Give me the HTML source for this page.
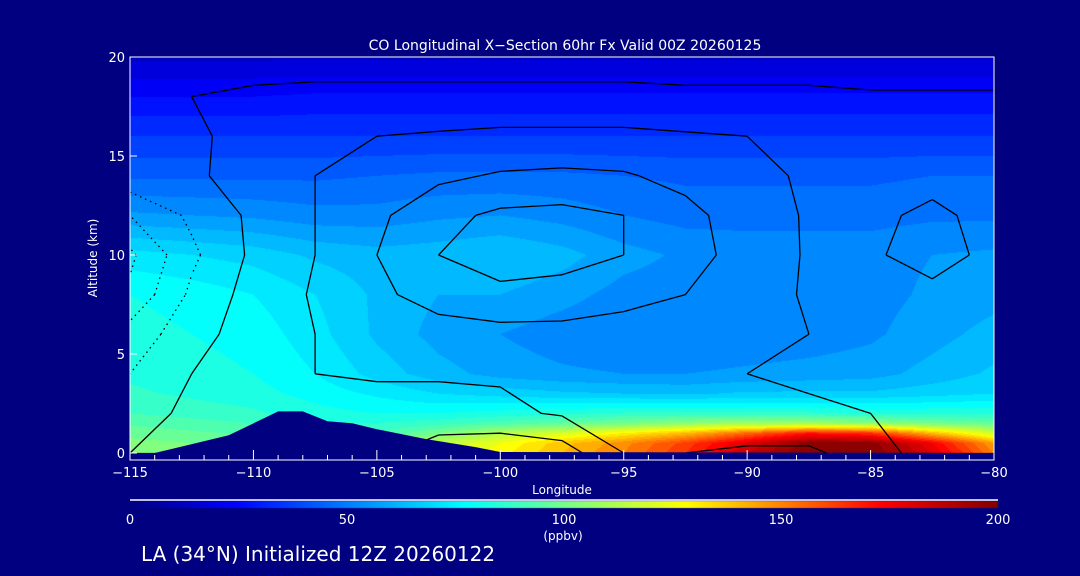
<!DOCTYPE html>
<html><head><meta charset="utf-8">
<style>
html,body{margin:0;padding:0;background:#000080;}
#wrap{position:relative;width:1080px;height:576px;background:#000080;overflow:hidden;font-family:"DejaVu Sans","Liberation Sans",sans-serif;color:#fff;}
canvas{position:absolute;left:0;top:0;}
svg{position:absolute;left:0;top:0;}
</style></head>
<body>
<div id="wrap">
<canvas id="field" width="1080" height="576"></canvas>
<svg id="svg" width="1080" height="576"></svg>
</div>
<script>
// ---- data ----
const lons = [-115,-112.5,-110,-107.5,-105,-102.5,-100,-97.5,-95,-92.5,-90,-87.5,-85,-82.5,-80];
const coAlts = [0,0.5,1,1.5,2,3,4,6,8,10,12,14,16,18,20];
const coValues = [
 [105,102,98,95,95,120,128,140,150,165,185,200,200,180,150],
 [102,100,96,95,95,115,125,138,148,162,180,198,198,175,145],
 [98,96,94,92,90,100,112,120,130,140,155,170,165,140,118],
 [94,92,90,86,85,88,92,96,100,105,108,108,105,100,96],
 [90,88,86,82,80,80,82,84,86,86,86,86,84,84,84],
 [86,84,82,78,74,70,68,66,65,64,66,66,66,68,70],
 [84,82,80,75,68,62,58,56,55,55,56,57,58,62,66],
 [82,80,78,72,64,58,55,52,50,50,51,52,54,58,62],
 [80,78,75,70,64,60,60,57,53,52,52,52,53,56,58],
 [72,70,68,64,62,63,65,62,57,54,53,53,53,55,56],
 [56,55,54,52,52,54,55,53,50,48,48,48,48,49,49],
 [44,44,44,44,45,46,46,46,45,44,44,44,44,45,45],
 [35,35,35,35,35,35,35,35,35,35,35,35,35,35,35],
 [25,25,25,26,26,26,26,26,26,26,26,26,26,26,26],
 [14,14,14,14,14,14,14,14,14,14,14,14,14,14,14]
];
const anAlts = [0,2,4,6,8,10,12,14,16,18,20];
const anomaly = [
 [0,2,4,4,2,-5,-8,-5,10,20,22,22,15,5,0],
 [-4,2,5,6,6,6,8,11,11,11,11,11,10,8,6],
 [-10,0,7,10,11,11,11,11,11,11,10,9,7,6,6],
 [-16,-4,5,10,14,16,17,17,16,14,12,10,7,5,5],
 [-28,-8,4,11,18,24,27,26,23,20,14,9,4,2,4],
 [-32,-12,2,10,20,30,36,34,30,24,16,9,1,-3,2],
 [-20,-8,2,10,18,27,32,33,30,23,15,9,2,-2,3],
 [-3,-2,5,10,14,18,21,22,21,17,12,9,5,3,5],
 [-5,-2,4,8,10,11,12,12,12,11,10,8,6,4,4],
 [-2,0,2,3,3,3,3,3,3,2,2,2,1,1,1],
 [-5,-5,-5,-5,-5,-5,-5,-5,-5,-5,-5,-5,-5,-5,-5]
];
const levels = [-30,-20,-10,0,10,20,30];
const terrainLon = [-115,-114,-113,-111,-109.5,-109,-108,-107,-106,-105,-103,-101,-100,-80];
const terrainAlt = [0,0,0.3,0.9,1.8,2.1,2.1,1.6,1.5,1.2,0.7,0.3,0.05,0];
const xTicks = [-115,-110,-105,-100,-95,-90,-85,-80];
const yTicks = [0,5,10,15,20];
const cbTicks = [0,50,100,150,200];

// ---- axes ----
const X0=130,X1=994,Y0=453,Y1=57;
const sx = lon => X0+(lon+115)/35*(X1-X0);
const sy = alt => Y0-alt/20*(Y0-Y1);
const cbX = v => 130+v/200*(998-130);

const stops=[[0,[0,0,128]],[24,[0,0,255]],[77,[0,255,255]],[102,[128,255,128]],[128,[255,255,0]],[173,[255,0,0]],[200,[128,0,0]]];
function cmap(v){
  v=Math.max(0,Math.min(200,v));
  for(let i=0;i<stops.length-1;i++){
    const a=stops[i],b=stops[i+1];
    if(v<=b[0]){const t=(v-a[0])/(b[0]-a[0]);return a[1].map((c,k)=>Math.round(c+(b[1][k]-c)*t));}
  }
  return stops[stops.length-1][1];
}
function interp(alts,grid,lon,alt){
  let fi=(lon+115)/2.5; let i=Math.min(Math.floor(fi),lons.length-2); let tx=fi-i;
  let j=0; while(j<alts.length-2&&alt>alts[j+1]) j++;
  let ty=(alt-alts[j])/(alts[j+1]-alts[j]); ty=Math.max(0,Math.min(1,ty));
  const a=grid[j][i],b=grid[j][i+1],c=grid[j+1][i],d=grid[j+1][i+1];
  return (a*(1-tx)+b*tx)*(1-ty)+(c*(1-tx)+d*tx)*ty;
}
// ---- field ----
const ctx=document.getElementById('field').getContext('2d');
const img=ctx.createImageData(X1-X0,Y0-Y1);
for(let py=0;py<Y0-Y1;py++){
  const alt=(Y0-(Y1+py+0.5))/(Y0-Y1)*20;
  for(let px=0;px<X1-X0;px++){
    const lon=-115+(px+0.5)/(X1-X0)*35;
    let v=interp(coAlts,coValues,lon,alt);
    v=Math.floor(v/5)*5+2.5;
    const c=cmap(v); const k=(py*(X1-X0)+px)*4;
    img.data[k]=c[0];img.data[k+1]=c[1];img.data[k+2]=c[2];img.data[k+3]=255;
  }
}
ctx.putImageData(img,X0,Y1);
// colorbar
for(let px=130;px<998;px++){ctx.fillStyle='rgb('+cmap((px-130)/(998-130)*200).join(',')+')';ctx.fillRect(px,501,1,7);}

const NS='http://www.w3.org/2000/svg';
const svg=document.getElementById('svg');
function mk(tag,attrs,parent){const e=document.createElementNS(NS,tag);for(const k in attrs)e.setAttribute(k,attrs[k]);(parent||svg).appendChild(e);return e;}

// contours via marching squares
const cg=mk('g',{});


levels.forEach(L=>{
  let d='';
  for(let j=0;j<anAlts.length-1;j++)for(let i=0;i<lons.length-1;i++){
    const p=[[lons[i],anAlts[j],anomaly[j][i]],[lons[i+1],anAlts[j],anomaly[j][i+1]],[lons[i+1],anAlts[j+1],anomaly[j+1][i+1]],[lons[i],anAlts[j+1],anomaly[j+1][i]]];
    const pts=[];
    for(let e=0;e<4;e++){const a=p[e],b=p[(e+1)%4];
      if((a[2]<L)!==(b[2]<L)){const t=(L-a[2])/(b[2]-a[2]);pts.push([sx(a[0]+(b[0]-a[0])*t),sy(a[1]+(b[1]-a[1])*t)]);}}
    for(let q=0;q+1<pts.length;q+=2)d+='M'+pts[q][0].toFixed(1)+' '+pts[q][1].toFixed(1)+'L'+pts[q+1][0].toFixed(1)+' '+pts[q+1][1].toFixed(1);
  }
  const path=mk('path',{d:d,fill:'none',stroke:'#000','stroke-width':1.3,'stroke-dasharray':L<0?'1.5 4':'none'},cg);
  
  
});
// terrain
let td='M'+sx(terrainLon[0])+' '+(Y0+3);
terrainLon.forEach((l,i)=>{td+='L'+sx(l).toFixed(1)+' '+sy(terrainAlt[i]).toFixed(1);});
td+='L'+sx(-80)+' '+(Y0+3)+'Z';
const terr=mk('path',{d:td,fill:'#000080'});


// frame
mk('rect',{x:130,y:453,width:864,height:7,fill:'#000080'});
const fr=mk('path',{d:'M130 57H994V460H130Z',fill:'none',stroke:'#fff','stroke-width':1});


mk('line',{x1:130,y1:500,x2:998,y2:500,stroke:'#fff','stroke-width':1.5});
// x ticks
for(let l=-115;l<=-80;l++){const major=(l%5===0);mk('line',{x1:sx(l),y1:460,x2:sx(l),y2:major?450:455,stroke:'#fff','stroke-width':1});}
const txt=(s,x,y,size,anchor,name)=>{const t=mk('text',{x:x,y:y,'font-size':size,fill:'#fff','text-anchor':anchor||'middle','font-family':'DejaVu Sans, Liberation Sans, sans-serif'});t.textContent=s;return t;};
xTicks.forEach(l=>txt(String(l).replace('-','\u2212'),sx(l),477,13,'middle','x-tick-label'));
yTicks.forEach(a=>{mk('line',{x1:130,y1:sy(a),x2:137,y2:sy(a),stroke:'#fff'});txt(String(a),125,sy(a)+5,13,'end','y-tick-label');});
cbTicks.forEach(v=>txt(String(v),cbX(v),524,13,'middle','colorbar-tick-label'));
txt('CO Longitudinal X\u2212Section 60hr  Fx Valid 00Z 20260125',565,50,14,'middle','chart-title').setAttribute('xml:space','preserve');
txt('Longitude',562,494,12,'middle','x-axis-title');
txt('(ppbv)',563,540,12,'middle','colorbar-unit');
const yt=txt('Altitude (km)',0,0,12,'middle','y-axis-title');yt.setAttribute('transform','translate(97,258) rotate(-90)');
txt('LA (34\u00b0N) Initialized 12Z 20260122',141,561,20,'start','footer-caption');
</script>
</body></html>
